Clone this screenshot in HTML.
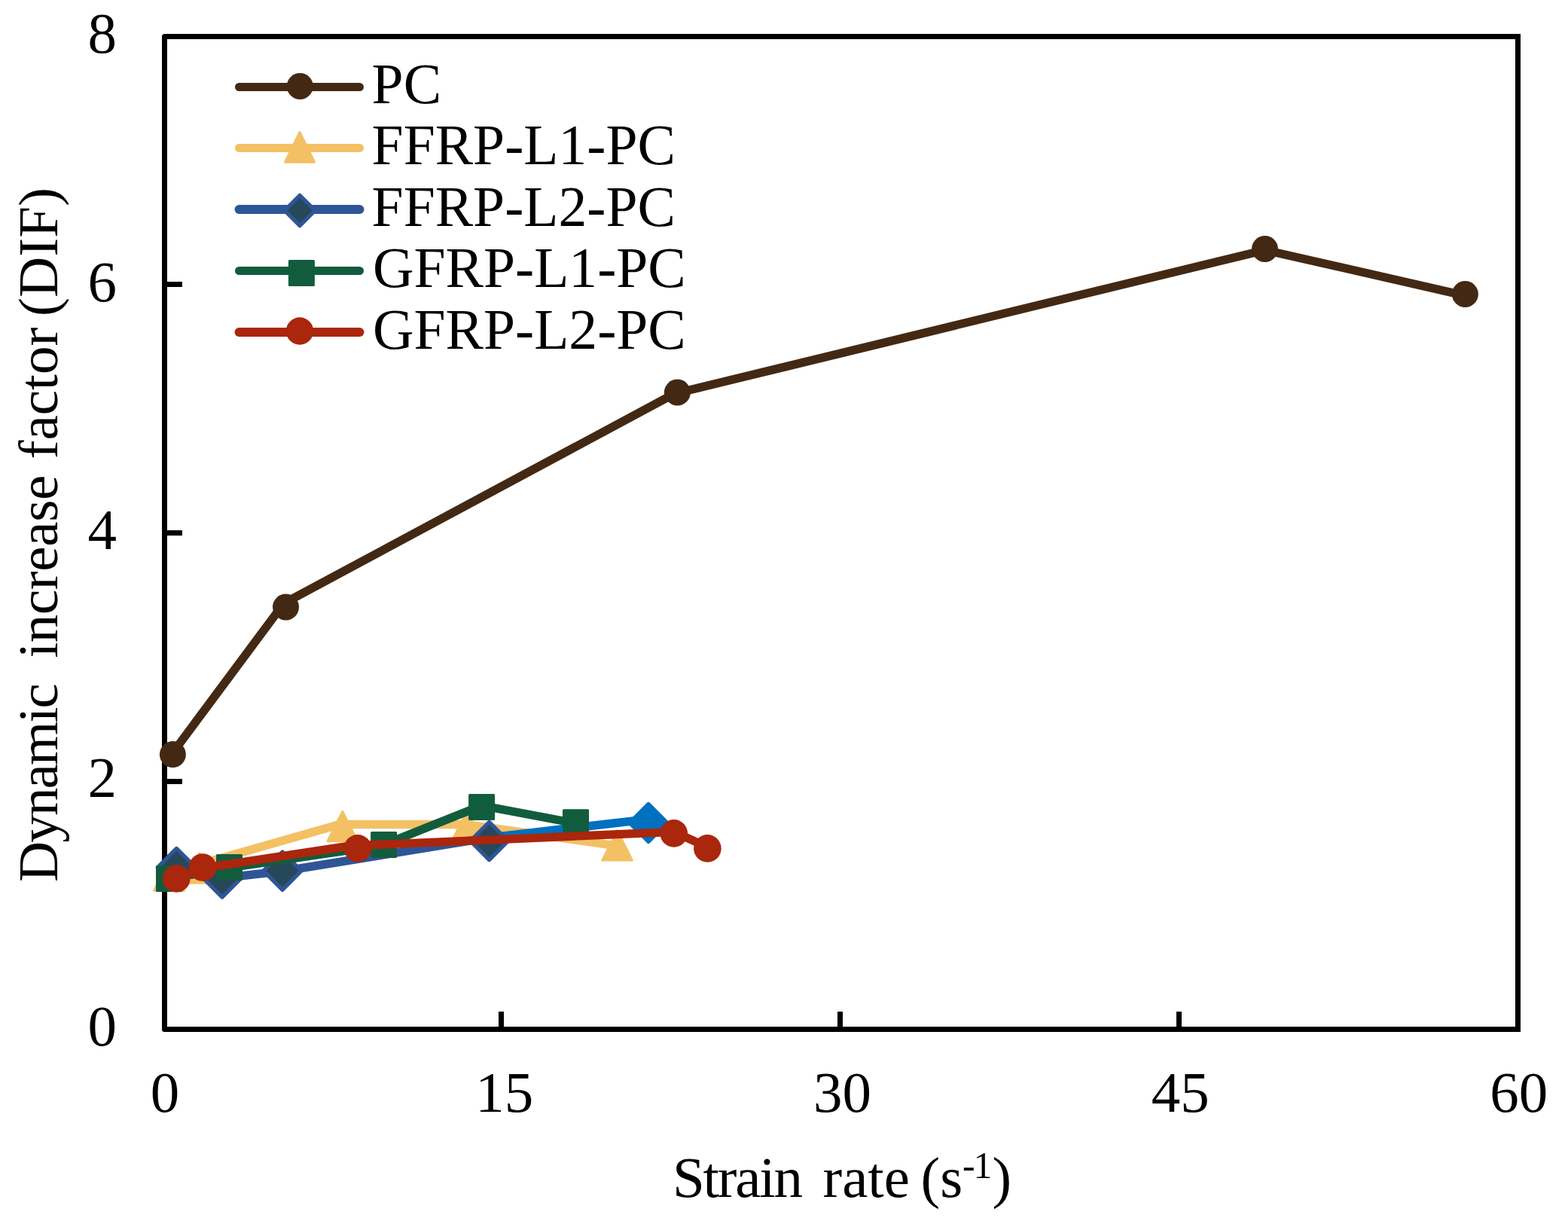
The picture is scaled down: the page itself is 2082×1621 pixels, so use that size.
<!DOCTYPE html>
<html>
<head>
<meta charset="utf-8">
<style>
html,body{margin:0;padding:0;background:#fff;}
svg{display:block;}
text{font-family:"Liberation Serif","Times New Roman",serif;fill:#000;}
</style>
</head>
<body>
<svg width="2082" height="1621" viewBox="0 0 2082 1621">
<rect x="0" y="0" width="2082" height="1621" fill="#fff"/>
<!-- axes frame -->
<path d="M2016,48.5 H218.5 V1366.5 H2016" fill="none" stroke="#000" stroke-width="7" stroke-linejoin="round"/>
<rect x="2012" y="45" width="7" height="1325" fill="#000"/>
<!-- y ticks -->
<rect x="222" y="1034" width="20" height="7" fill="#000"/>
<rect x="222" y="704" width="20" height="7" fill="#000"/>
<rect x="222" y="374" width="20" height="7" fill="#000"/>
<!-- x ticks -->
<rect x="662" y="1343" width="7" height="20" fill="#000"/>
<rect x="1112" y="1343" width="7" height="20" fill="#000"/>
<rect x="1562" y="1343" width="7" height="20" fill="#000"/>

<!-- y tick labels -->
<g font-size="77" text-anchor="end">
<text x="155" y="70.2">8</text>
<text x="155" y="400.2">6</text>
<text x="155" y="728.8">4</text>
<text x="155" y="1057.9">2</text>
<text x="155" y="1388.1">0</text>
</g>
<!-- x tick labels -->
<g font-size="77" text-anchor="middle">
<text x="219" y="1476.2">0</text>
<text x="669.7" y="1476.2">15</text>
<text x="1118.6" y="1476.2">30</text>
<text x="1567.3" y="1476.2">45</text>
<text x="2016.8" y="1476.2">60</text>
</g>
<!-- x axis title -->
<g font-size="77">
<text x="893" y="1589" textLength="172.9" lengthAdjust="spacing">Strain</text>
<text x="1092.5" y="1589">rate</text>
<text x="1222.5" y="1589">(s</text>
<text x="1277.9" y="1564.3" font-size="50">-</text>
<text x="1292.4" y="1564.3" font-size="50">1</text>
<text x="1317.5" y="1589">)</text>
</g>
<!-- y axis title -->
<g font-size="75" transform="translate(75.8,0) rotate(-90)">
<text x="-1171" y="0" textLength="263.7" lengthAdjust="spacing">Dynamic</text>
<text x="-873.6" y="0" textLength="242.8" lengthAdjust="spacing">increase</text>
<text x="-609.5" y="0">factor</text>
<text x="-419.9" y="0">(DIF)</text>
</g>

<!-- legend -->
<g font-size="75.6">
<text x="493.6" y="136.8">PC</text>
<text x="493.6" y="218">FFRP-L1-PC</text>
<text x="493.6" y="299.5">FFRP-L2-PC</text>
<text x="494.9" y="381">GFRP-L1-PC</text>
<text x="494.9" y="462.8">GFRP-L2-PC</text>
</g>
<g stroke-linecap="round" stroke-width="11">
<line x1="317.5" y1="115.5" x2="477.5" y2="115.5" stroke="#432914"/>
<line x1="317.5" y1="196.5" x2="477.5" y2="196.5" stroke="#F3C164"/>
<line x1="317.5" y1="278" x2="477.5" y2="278" stroke="#2F5597" stroke-width="12"/>
<line x1="317.5" y1="359.5" x2="477.5" y2="359.5" stroke="#125C3E"/>
<line x1="317.5" y1="441" x2="477.5" y2="441" stroke="#AA260C" stroke-width="12"/>
</g>
<circle cx="398.3" cy="114.5" r="17.5" fill="#432914"/>
<polygon points="398.0,175.5 378.4,215.3 417.6,215.3" fill="#F3C164" stroke="#F3C164" stroke-width="3" stroke-linejoin="round"/>
<polygon points="398.1,259.3 418.3,279.5 398.1,299.7 377.9,279.5" fill="#264858" stroke="#2F5597" stroke-width="5.2" stroke-linejoin="round"/>
<rect x="382.9" y="344.9" width="35" height="35" rx="1.5" fill="#125C3E"/>
<circle cx="398" cy="439.5" r="18.2" fill="#AA260C"/>

<!-- Series PC -->
<polyline points="229.4,999.4 376.9,801 895.4,522.7 1679.6,331.9 1945.4,392.4" fill="none" stroke="#432914" stroke-width="11.3" stroke-linejoin="round" stroke-linecap="round"/>
<g fill="#432914">
<circle cx="229.4" cy="1001.6" r="17.5"/>
<circle cx="379.5" cy="806" r="17.5"/>
<circle cx="899.4" cy="521" r="17.5"/>
<circle cx="1679.5" cy="330.5" r="17.5"/>
<circle cx="1945.4" cy="390.5" r="17.5"/>
</g>

<!-- Series FFRP-L1 (orange triangles) -->
<polyline points="224.4,1158 264.9,1147.5 451,1094.5 620,1094.5 819.6,1123" fill="none" stroke="#F3C164" stroke-width="11.3" stroke-linejoin="round" stroke-linecap="round"/>
<g fill="#F3C164" stroke="#F3C164" stroke-width="3" stroke-linejoin="round">
<polygon points="224.4,1142.6 204.6,1182.3 244.2,1182.3"/>
<polygon points="264.9,1132.6 245.1,1172.3 284.7,1172.3"/>
<polygon points="454.8,1077.4 435.0,1116.7 474.6,1116.7"/>
<polygon points="620.0,1076.7 600.2,1116.4 639.8,1116.4"/>
<polygon points="819.6,1102.6 799.8,1142.1 839.4,1142.1"/>
</g>

<!-- Series FFRP-L2 (blue diamonds) -->
<polyline points="234.4,1151.5 295,1165.7 375,1156.7 649.6,1112" fill="none" stroke="#2F5597" stroke-width="11.3" stroke-linejoin="round" stroke-linecap="round"/>
<line x1="649.6" y1="1112" x2="861" y2="1087.6" stroke="#0070C0" stroke-width="11.3" stroke-linecap="round"/>
<g fill="#264858" stroke="#2F5597" stroke-width="5.2" stroke-linejoin="round">
<polygon points="234.4,1126.4 259.5,1151.5 234.4,1176.6 209.3,1151.5"/>
<polygon points="295,1140.9 320.1,1166 295,1191.1 269.9,1166"/>
<polygon points="375,1131.1 400.1,1156.2 375,1181.3 349.9,1156.2"/>
<polygon points="649.6,1091.4 674.7,1116.5 649.6,1141.6 624.5,1116.5"/>
</g>
<polygon points="861,1067.3 886.1,1092.4 861,1117.5 835.9,1092.4" fill="#0070C0" stroke="#0070C0" stroke-width="5" stroke-linejoin="round"/>

<!-- Series GFRP-L1 (green squares) -->
<polyline points="224.5,1166.5 304.5,1152 507,1122.5 639.6,1069.5 764.5,1093" fill="none" stroke="#125C3E" stroke-width="11.3" stroke-linejoin="round" stroke-linecap="round"/>
<g fill="#125C3E">
<rect x="207" y="1149" width="35" height="35" rx="1.5"/>
<rect x="287" y="1134" width="35" height="35" rx="1.5"/>
<rect x="492.1" y="1103.9" width="35" height="35" rx="1.5"/>
<rect x="622.1" y="1054" width="35" height="35" rx="1.5"/>
<rect x="747" y="1074.2" width="35" height="35" rx="1.5"/>
</g>

<!-- Series GFRP-L2 (red circles) -->
<polyline points="234.3,1166 269,1152.7 465.6,1122.9 894.8,1104.4 939.4,1124.7" fill="none" stroke="#AA260C" stroke-width="11.3" stroke-linejoin="round" stroke-linecap="round"/>
<g fill="#AA260C">
<circle cx="234.3" cy="1166.4" r="18.3"/>
<circle cx="269" cy="1151.5" r="18.3"/>
<circle cx="475" cy="1126.3" r="18.3"/>
<circle cx="894.8" cy="1106.4" r="18.3"/>
<circle cx="939.4" cy="1126.4" r="18.3"/>
</g>
</svg>
</body>
</html>
